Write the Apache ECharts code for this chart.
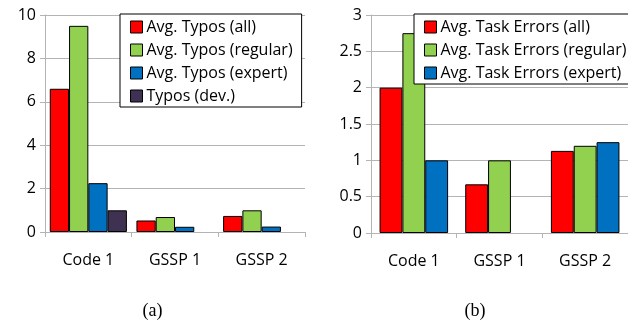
<!DOCTYPE html>
<html>
<head>
<meta charset="utf-8">
<script src="https://cdn.jsdelivr.net/npm/echarts@6/dist/echarts.min.js"></script>
<style>html,body{margin:0;padding:0;background:#fff;}#c{width:628px;height:322px;}</style>
</head>
<body>
<div id="c"></div>
<script>
const categories = ['Code 1', 'GSSP 1', 'GSSP 2'];
const typosAll = [6.6, 0.53, 0.74];
const typosRegular = [9.5, 0.69, 1.0];
const typosExpert = [2.25, 0.24, 0.25];
const typosDev = [1.0, null, null];
const errorsAll = [2.0, 0.67, 1.13];
const errorsRegular = [2.75, 1.0, 1.2];
const errorsExpert = [1.0, null, 1.25];
const leftTicks = { min: 0, max: 10, interval: 2 };
const rightTicks = { min: 0, max: 3, interval: 0.5 };

const FONT = 'Open Sans';
const GRID = '#b4b4b4';
const colors = { all: '#ff0000', regular: '#92d050', expert: '#0070c0', dev: '#3f3151' };

function bar(name, data, color, idx, gap) {
  return {
    type: 'bar', name: name, data: data, xAxisIndex: idx, yAxisIndex: idx,
    barGap: '0%', barCategoryGap: gap,
    itemStyle: { color: color, borderColor: '#000', borderWidth: 1 },
    emphasis: { disabled: true }
  };
}
function xAx(idx) {
  return {
    type: 'category', data: categories, gridIndex: idx,
    axisLine: { show: true, lineStyle: { color: GRID, width: 1 } },
    axisTick: { show: true, length: 5, lineStyle: { color: GRID } },
    axisLabel: { fontFamily: FONT, fontSize: 16, color: '#000', margin: 20 },
    splitLine: { show: false }
  };
}
function yAx(idx, t) {
  return {
    type: 'value', gridIndex: idx, min: t.min, max: t.max, interval: t.interval,
    axisLine: { show: true, lineStyle: { color: GRID, width: 1 } },
    axisTick: { show: true, length: 5, lineStyle: { color: GRID } },
    axisLabel: { fontFamily: FONT, fontSize: 16, color: '#000', margin: 9 },
    splitLine: { show: true, lineStyle: { color: GRID, width: 1 } }
  };
}
function legend(names, left) {
  return {
    data: names, orient: 'vertical', left: left, top: 14,
    backgroundColor: '#fff', borderColor: '#000', borderWidth: 1,
    padding: [4, 9, 2, 10], itemGap: 5, itemWidth: 12, itemHeight: 12,
    icon: 'rect', itemStyle: { borderColor: '#000', borderWidth: 1 },
    textStyle: { fontFamily: FONT, fontSize: 16, color: '#000', lineHeight: 18, padding: [0, 0, 0, -1] },
    selectedMode: false
  };
}

const chart = echarts.init(document.getElementById('c'), null, { renderer: 'canvas' });
chart.setOption({
  animation: false,
  grid: [
    { left: 45, top: 15, right: 323, bottom: 90 },
    { left: 371, top: 15, right: 0, bottom: 89 }
  ],
  xAxis: [xAx(0), xAx(1)],
  yAxis: [yAx(0, leftTicks), yAx(1, rightTicks)],
  legend: [
    legend(['Avg. Typos (all)', 'Avg. Typos (regular)', 'Avg. Typos (expert)', 'Typos (dev.)'], 120),
    legend(['Avg. Task Errors (all)', 'Avg. Task Errors (regular)', 'Avg. Task Errors (expert)'], 414)
  ],
  series: [
    bar('Avg. Typos (all)', typosAll, colors.all, 0, '11%'),
    bar('Avg. Typos (regular)', typosRegular, colors.regular, 0, '11%'),
    bar('Avg. Typos (expert)', typosExpert, colors.expert, 0, '11%'),
    bar('Typos (dev.)', typosDev, colors.dev, 0, '11%'),
    bar('Avg. Task Errors (all)', errorsAll, colors.all, 1, '20%'),
    bar('Avg. Task Errors (regular)', errorsRegular, colors.regular, 1, '20%'),
    bar('Avg. Task Errors (expert)', errorsExpert, colors.expert, 1, '20%')
  ],
  graphic: [
    { type: 'text', x: 152.5, y: 311.5, style: { text: '(a)', fontFamily: 'Liberation Serif', fontSize: 18, fill: '#000', align: 'center', verticalAlign: 'middle' } },
    { type: 'text', x: 475, y: 311.5, style: { text: '(b)', fontFamily: 'Liberation Serif', fontSize: 18, fill: '#000', align: 'center', verticalAlign: 'middle' } }
  ]
});
</script>
</body>
</html>
